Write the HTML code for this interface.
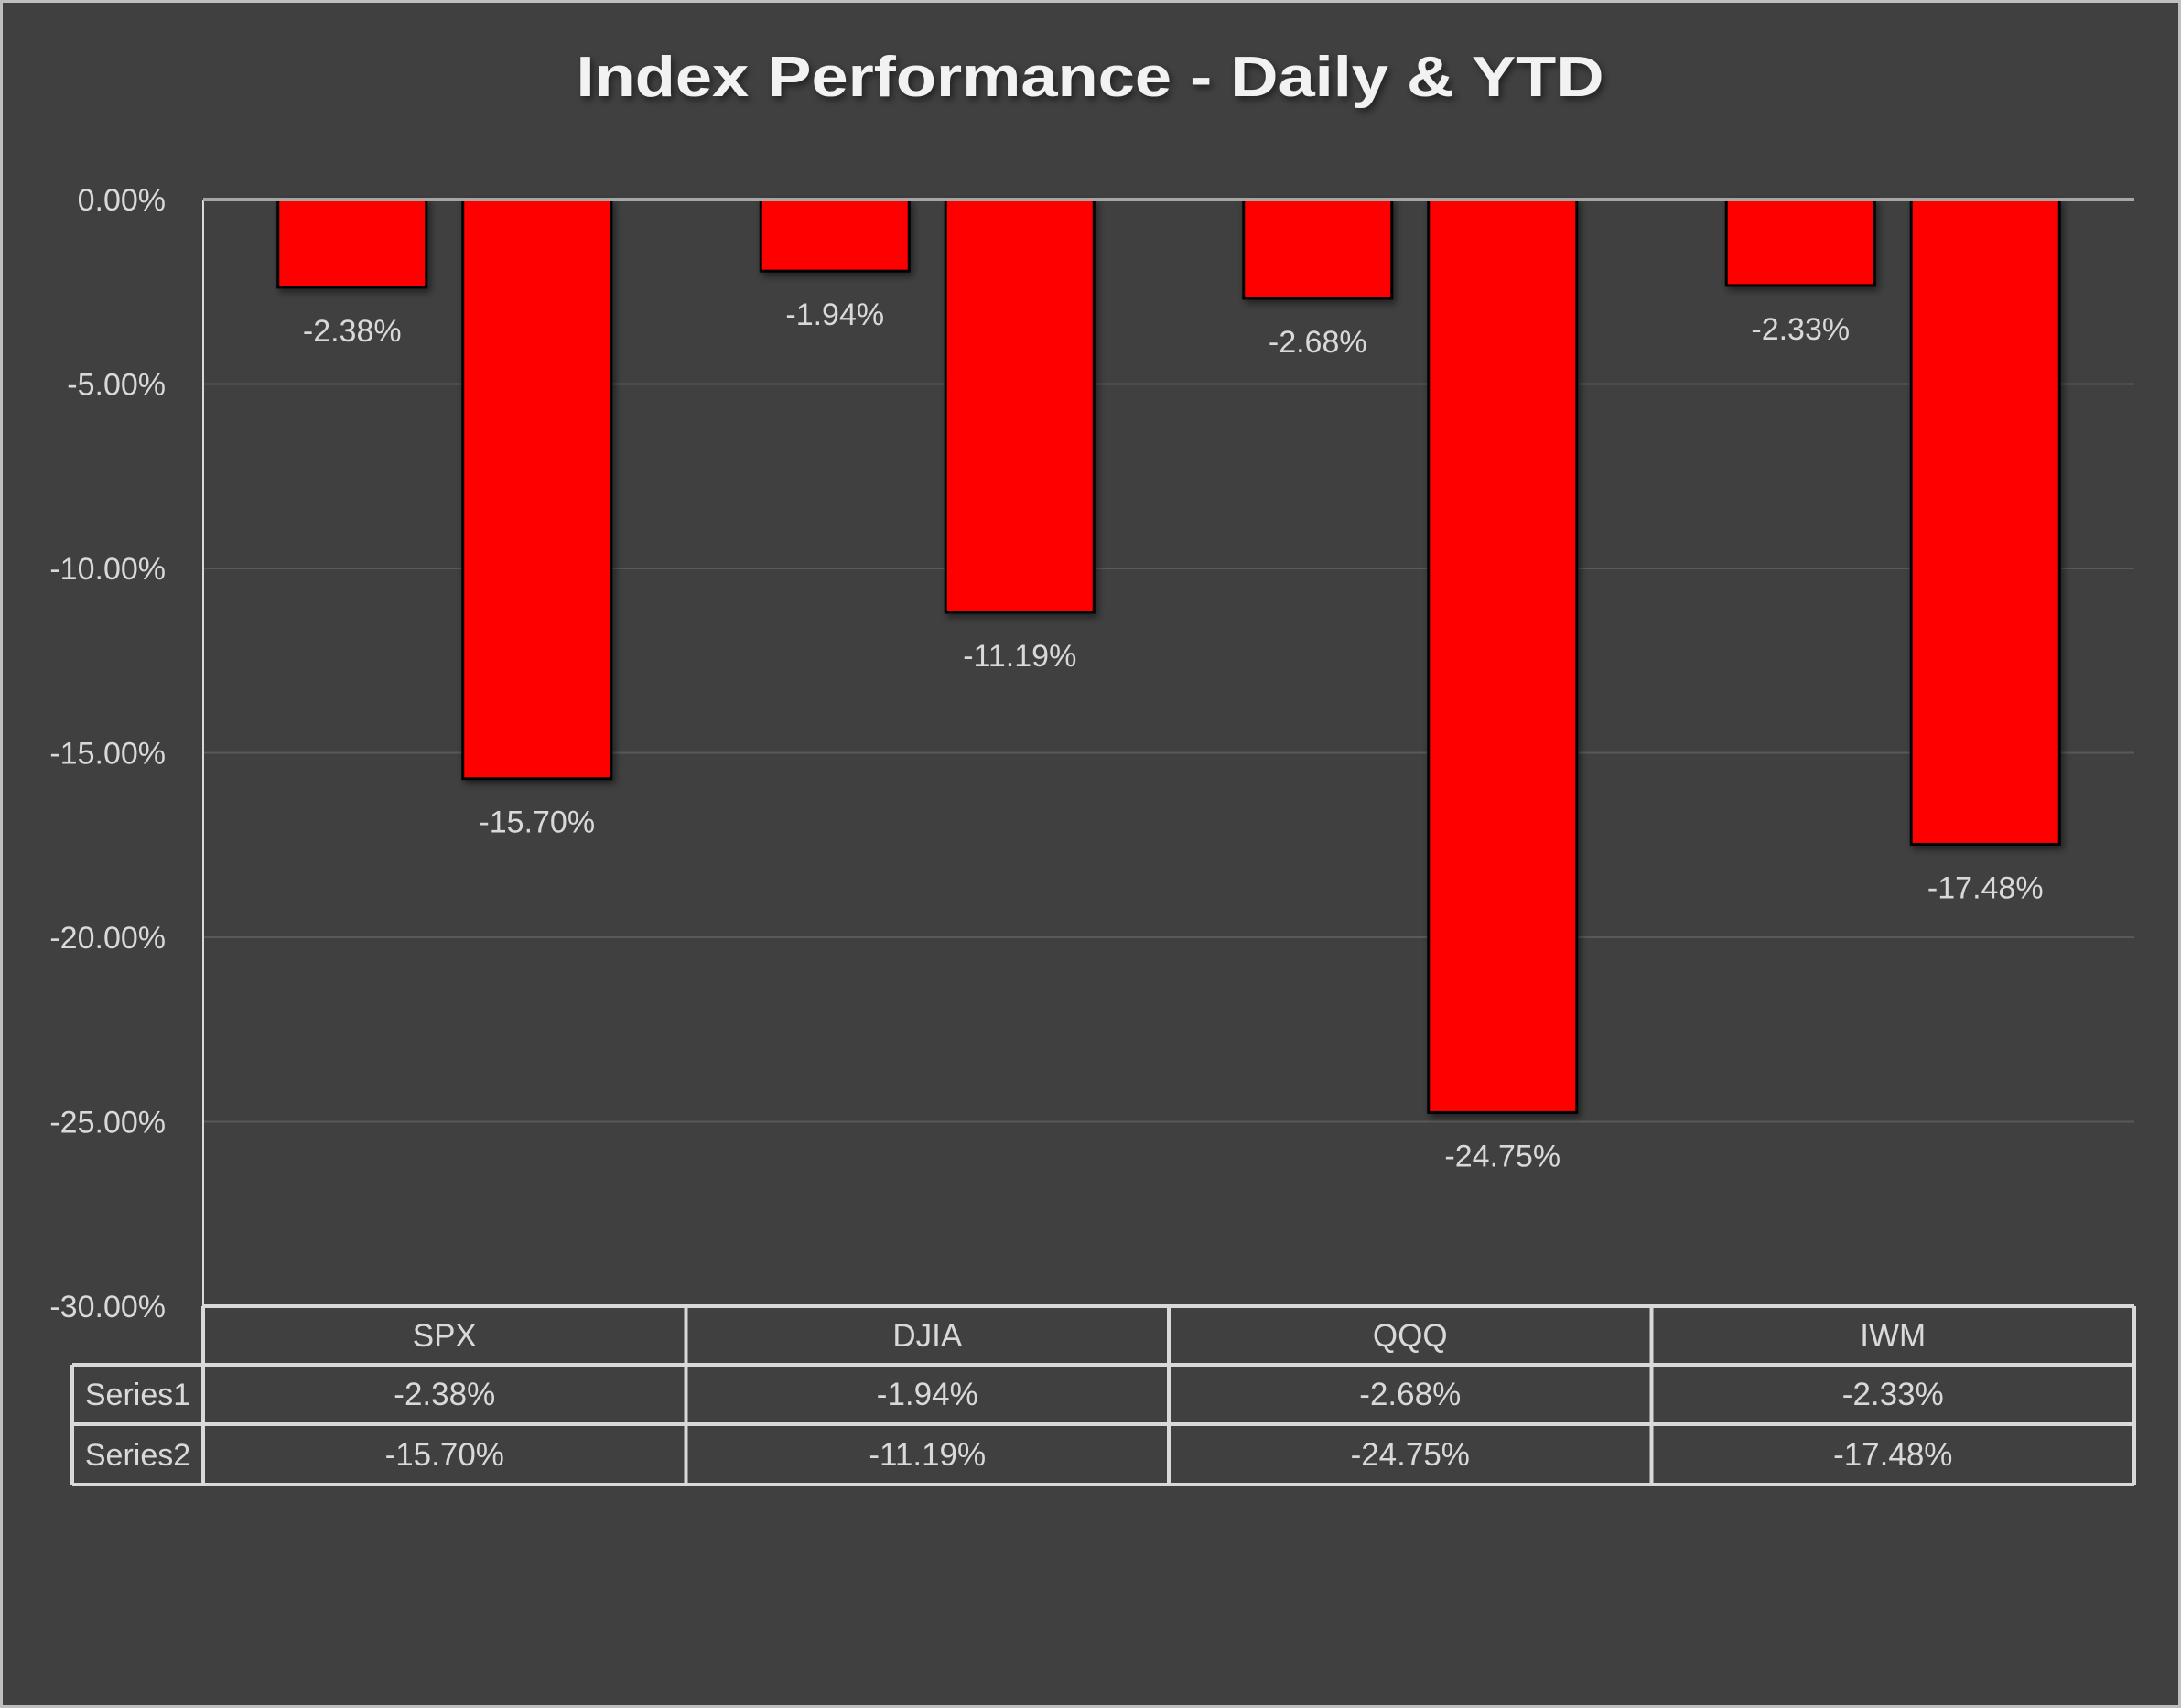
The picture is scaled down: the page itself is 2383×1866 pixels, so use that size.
<!DOCTYPE html>
<html><head><meta charset="utf-8"><style>
html,body{margin:0;padding:0;background:#404040;}
svg{display:block;font-family:"Liberation Sans",sans-serif;}
</style></head><body>
<svg id="chart" width="2383" height="1866" viewBox="0 0 2383 1866" xmlns="http://www.w3.org/2000/svg">
<defs><filter id="sh" x="-20%" y="-20%" width="140%" height="140%"><feDropShadow dx="3" dy="4" stdDeviation="4" flood-color="#000" flood-opacity="0.5"/></filter></defs>
<rect x="0" y="0" width="2383" height="1866" fill="#404040"/>
<rect x="1.5" y="1.5" width="2380" height="1863" fill="none" stroke="#bfbfbf" stroke-width="3"/>
<text x="1191" y="105" text-anchor="middle" font-size="62" font-weight="bold" fill="#f2f2f2" textLength="1123" lengthAdjust="spacingAndGlyphs" filter="url(#sh)">Index Performance - Daily &amp; YTD</text>
<g id="grid"></g><g id="bars"></g><g id="labels"></g><g id="table"></g>
</svg>
<script>
const categories = ["SPX","DJIA","QQQ","IWM"];
const series1 = [-2.38,-1.94,-2.68,-2.33];
const series2 = [-15.70,-11.19,-24.75,-17.48];
const seriesNames = ["Series1","Series2"];
const yTicks = [0,-5,-10,-15,-20,-25,-30];

const NS="http://www.w3.org/2000/svg";
const L=222,R=2332,Y0=218,Y30=1427;
const yScale=v=>Y0+(-v)/30*(Y30-Y0);
const catW=(R-L)/categories.length;
const xCenter=i=>L+catW*(i+0.5);
const barW=162, off=101;
function mk(tag,attrs,parent,text){const e=document.createElementNS(NS,tag);for(const k in attrs)e.setAttribute(k,attrs[k]);if(text!==undefined)e.textContent=text;parent.appendChild(e);return e;}
const fmt=v=>v.toFixed(2)+"%";
const grid=document.getElementById('grid'),bars=document.getElementById('bars'),labels=document.getElementById('labels'),table=document.getElementById('table');

yTicks.forEach(t=>{
  const y=yScale(t);
  if(t!==0 && t!==-30){const g=mk('line',{x1:L,x2:R,y1:y,y2:y,stroke:'#595959','stroke-width':2},grid);
  
  }
  const tl=mk('text',{x:181,y:y+12,'text-anchor':'end','font-size':34,fill:'#d9d9d9'},grid,t.toFixed(2)+"%");
  
  
});
const ax=mk('line',{x1:L,x2:L,y1:Y0,y2:Y30,stroke:'#d9d9d9','stroke-width':2},grid);



[series1,series2].forEach((s,si)=>{
  s.forEach((v,i)=>{
    const cx=xCenter(i)+(si===0?-off:off);
    const y=yScale(v);
    const b=mk('rect',{x:cx-barW/2,y:Y0,width:barW,height:y-Y0,fill:'#ff0000',stroke:'#000','stroke-width':3,filter:'url(#sh)'},bars);
    
    
    const t=mk('text',{x:cx,y:y+59,'text-anchor':'middle','font-size':34,fill:'#d9d9d9'},labels,fmt(v));
    
    
  });
});
const zl=mk('line',{x1:L,x2:R,y1:Y0,y2:Y0,stroke:'#a6a6a6','stroke-width':4},bars);



// data table
const T0=1427,T1=1491,T2=1556,T3=1622,TL=79;
const st={stroke:'#d9d9d9','stroke-width':4};
[[L,T0,R,T0],[TL,T1,R,T1],[TL,T2,R,T2],[TL,T3,R,T3],[TL,T1,TL,T3]].forEach(c=>{
  const l=mk('line',Object.assign({x1:c[0],y1:c[1],x2:c[2],y2:c[3]},st),table);
  
  
});
for(let i=0;i<=categories.length;i++){
  const x=L+catW*i;
  const l=mk('line',Object.assign({x1:x,y1:T0,x2:x,y2:T3},st),table);
  
  
}
categories.forEach((c,i)=>{
  const t=mk('text',{x:xCenter(i),y:1471,'text-anchor':'middle','font-size':35,fill:'#d9d9d9'},table,c);
  
  
});
[series1,series2].forEach((s,si)=>{
  const by=si===0?1535:1601;
  const n=mk('text',{x:(TL+L)/2,y:by,'text-anchor':'middle','font-size':34,fill:'#d9d9d9'},table,seriesNames[si]);
  
  
  s.forEach((v,i)=>{
    const t=mk('text',{x:xCenter(i),y:by,'text-anchor':'middle','font-size':35,fill:'#d9d9d9'},table,fmt(v));
    
    
  });
});
</script>
</body></html>
